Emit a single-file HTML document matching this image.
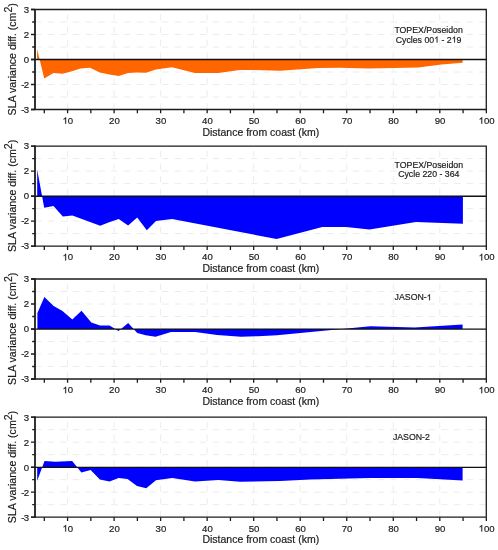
<!DOCTYPE html><html><head><meta charset="utf-8"><style>html,body{margin:0;padding:0;background:#fff;}svg{display:block;will-change:transform;}text{font-family:"Liberation Sans",sans-serif;fill:#1a1a1a;stroke:#1a1a1a;stroke-width:0.18px;}</style></head><body>
<svg width="498" height="550" viewBox="0 0 498 550">
<rect width="498" height="550" fill="#fff"/>
<g><path d="M35.0 22.00H486.3 M35.0 34.50H486.3 M35.0 47.00H486.3 M35.0 59.50H486.3 M35.0 72.00H486.3 M35.0 84.50H486.3 M35.0 97.00H486.3" stroke="#ececec" stroke-width="1" stroke-dasharray="6.4 6.3" fill="none"/><path d="M67.57 109.5V9.5 M114.10 109.5V9.5 M160.63 109.5V9.5 M207.16 109.5V9.5 M253.69 109.5V9.5 M300.22 109.5V9.5 M346.75 109.5V9.5 M393.28 109.5V9.5 M439.81 109.5V9.5" stroke="#ececec" stroke-width="1" stroke-dasharray="6.4 6.3" fill="none"/><path d="M37.1 59.50L37.1 49.1L44.2 78.4L53.5 73.0L62.5 73.8L72.0 71.3L80.5 68.5L90.1 67.7L99.8 72.5L109.4 74.5L118.7 76.1L128.1 73.1L137.1 72.5L146.1 72.8L155.8 69.5L172.0 67.3L194.9 73.1L218.3 73.1L232.4 71.1L240.0 70.1L254.1 70.1L280.2 70.7L304.3 69.1L318.4 68.1L340.0 67.7L368.2 68.5L418.1 67.5L441.6 64.5L462.6 62.7L462.6 59.50Z" fill="#ff6600"/><path d="M31 59.50H486.3" stroke="#111" stroke-width="1.4"/><path d="M31 9.50H486.3V109.50M31 109.50H486.9" stroke="#1c1c1c" stroke-width="1.3" fill="none"/><path d="M35.0 8.90V110.10" stroke="#1c1c1c" stroke-width="1.8" fill="none"/><path d="M31 9.50H35.0M31 34.50H35.0M31 59.50H35.0M31 84.50H35.0M31 109.50H35.0M32.2 22.00H35.0M32.2 47.00H35.0M32.2 72.00H35.0M32.2 97.00H35.0" stroke="#1c1c1c" stroke-width="1.3"/><path d="M44.31 109.50V113.30M67.57 109.50V113.30M90.84 109.50V113.30M114.10 109.50V113.30M137.37 109.50V113.30M160.63 109.50V113.30M183.90 109.50V113.30M207.16 109.50V113.30M230.43 109.50V113.30M253.69 109.50V113.30M276.96 109.50V113.30M300.22 109.50V113.30M323.49 109.50V113.30M346.75 109.50V113.30M370.02 109.50V113.30M393.28 109.50V113.30M416.55 109.50V113.30M439.81 109.50V113.30M463.08 109.50V113.30M486.34 109.50V113.30" stroke="#1c1c1c" stroke-width="1.3"/><text transform="translate(29 12.80) scale(1 1.0)" font-size="9.6" text-anchor="end">3</text><text transform="translate(29 37.80) scale(1 1.0)" font-size="9.6" text-anchor="end">2</text><text transform="translate(29 62.80) scale(1 1.0)" font-size="9.6" text-anchor="end">0</text><text transform="translate(29 87.80) scale(1 1.0)" font-size="9.6" text-anchor="end">-<tspan dx="-0.9">2</tspan></text><text transform="translate(29 112.80) scale(1 1.0)" font-size="9.6" text-anchor="end">-<tspan dx="-0.9">3</tspan></text><text x="67.87" y="123.80" font-size="9.6" text-anchor="middle"><tspan style="fill:none;stroke:none">1</tspan>0</text><text x="114.40" y="123.80" font-size="9.6" text-anchor="middle">20</text><text x="160.93" y="123.80" font-size="9.6" text-anchor="middle">30</text><text x="207.46" y="123.80" font-size="9.6" text-anchor="middle">40</text><text x="253.99" y="123.80" font-size="9.6" text-anchor="middle">50</text><text x="300.52" y="123.80" font-size="9.6" text-anchor="middle">60</text><text x="347.05" y="123.80" font-size="9.6" text-anchor="middle">70</text><text x="393.58" y="123.80" font-size="9.6" text-anchor="middle">80</text><text x="440.11" y="123.80" font-size="9.6" text-anchor="middle">90</text><text x="486.64" y="123.80" font-size="9.6" text-anchor="middle"><tspan style="fill:none;stroke:none">1</tspan>00</text><text x="260.8" y="135.50" font-size="10.5" text-anchor="middle">Distance from coast (km)</text><text transform="translate(16 59.30) rotate(-90)" font-size="10.6" text-anchor="middle">SLA variance diff. (cm<tspan dy="-4.2">2</tspan><tspan dy="4.2">)</tspan></text><text x="428.60" y="32.90" font-size="8.75" text-anchor="middle">TOPEX/Poseidon</text><text x="428.60" y="42.50" font-size="8.75" text-anchor="middle">Cycles 00<tspan style="fill:none;stroke:none">1</tspan> - 2<tspan style="fill:none;stroke:none">1</tspan>9</text></g>
<g><path d="M35.0 158.60H486.3 M35.0 171.10H486.3 M35.0 183.60H486.3 M35.0 196.10H486.3 M35.0 208.60H486.3 M35.0 221.10H486.3 M35.0 233.60H486.3" stroke="#ececec" stroke-width="1" stroke-dasharray="6.4 6.3" fill="none"/><path d="M67.57 246.1V146.1 M114.10 246.1V146.1 M160.63 246.1V146.1 M207.16 246.1V146.1 M253.69 246.1V146.1 M300.22 246.1V146.1 M346.75 246.1V146.1 M393.28 246.1V146.1 M439.81 246.1V146.1" stroke="#ececec" stroke-width="1" stroke-dasharray="6.4 6.3" fill="none"/><path d="M37.2 196.10L37.2 169.8L44.2 207.8L53.5 206.0L62.8 216.4L72.4 215.4L100.2 225.7L109.1 222.3L118.7 219.1L128.1 225.5L137.2 217.5L146.8 230.3L156.0 221.1L172.1 219.1L276.6 239.0L322.3 227.1L346.0 227.0L369.5 229.5L415.9 221.9L462.9 223.7L462.9 196.10Z" fill="#0000ff"/><path d="M31 196.30H486.3" stroke="#111" stroke-width="1.4"/><path d="M31 146.10H486.3V246.10M31 246.10H486.9" stroke="#1c1c1c" stroke-width="1.3" fill="none"/><path d="M35.0 145.50V246.70" stroke="#1c1c1c" stroke-width="1.8" fill="none"/><path d="M31 146.10H35.0M31 171.10H35.0M31 196.10H35.0M31 221.10H35.0M31 246.10H35.0M32.2 158.60H35.0M32.2 183.60H35.0M32.2 208.60H35.0M32.2 233.60H35.0" stroke="#1c1c1c" stroke-width="1.3"/><path d="M44.31 246.10V249.90M67.57 246.10V249.90M90.84 246.10V249.90M114.10 246.10V249.90M137.37 246.10V249.90M160.63 246.10V249.90M183.90 246.10V249.90M207.16 246.10V249.90M230.43 246.10V249.90M253.69 246.10V249.90M276.96 246.10V249.90M300.22 246.10V249.90M323.49 246.10V249.90M346.75 246.10V249.90M370.02 246.10V249.90M393.28 246.10V249.90M416.55 246.10V249.90M439.81 246.10V249.90M463.08 246.10V249.90M486.34 246.10V249.90" stroke="#1c1c1c" stroke-width="1.3"/><text transform="translate(29 149.40) scale(1 1.0)" font-size="9.6" text-anchor="end">3</text><text transform="translate(29 174.40) scale(1 1.0)" font-size="9.6" text-anchor="end">2</text><text transform="translate(29 199.40) scale(1 1.0)" font-size="9.6" text-anchor="end">0</text><text transform="translate(29 224.40) scale(1 1.0)" font-size="9.6" text-anchor="end">-<tspan dx="-0.9">2</tspan></text><text transform="translate(29 249.40) scale(1 1.0)" font-size="9.6" text-anchor="end">-<tspan dx="-0.9">3</tspan></text><text x="67.87" y="260.40" font-size="9.6" text-anchor="middle"><tspan style="fill:none;stroke:none">1</tspan>0</text><text x="114.40" y="260.40" font-size="9.6" text-anchor="middle">20</text><text x="160.93" y="260.40" font-size="9.6" text-anchor="middle">30</text><text x="207.46" y="260.40" font-size="9.6" text-anchor="middle">40</text><text x="253.99" y="260.40" font-size="9.6" text-anchor="middle">50</text><text x="300.52" y="260.40" font-size="9.6" text-anchor="middle">60</text><text x="347.05" y="260.40" font-size="9.6" text-anchor="middle">70</text><text x="393.58" y="260.40" font-size="9.6" text-anchor="middle">80</text><text x="440.11" y="260.40" font-size="9.6" text-anchor="middle">90</text><text x="486.64" y="260.40" font-size="9.6" text-anchor="middle"><tspan style="fill:none;stroke:none">1</tspan>00</text><text x="260.8" y="272.10" font-size="10.5" text-anchor="middle">Distance from coast (km)</text><text transform="translate(16 195.90) rotate(-90)" font-size="10.6" text-anchor="middle">SLA variance diff. (cm<tspan dy="-4.2">2</tspan><tspan dy="4.2">)</tspan></text><text x="428.80" y="167.60" font-size="8.75" text-anchor="middle">TOPEX/Poseidon</text><text x="428.80" y="177.20" font-size="8.75" text-anchor="middle">Cycle 220 - 364</text></g>
<g><path d="M35.0 291.50H486.3 M35.0 304.00H486.3 M35.0 316.50H486.3 M35.0 329.00H486.3 M35.0 341.50H486.3 M35.0 354.00H486.3 M35.0 366.50H486.3" stroke="#ececec" stroke-width="1" stroke-dasharray="6.4 6.3" fill="none"/><path d="M67.57 379.0V279.0 M114.10 379.0V279.0 M160.63 379.0V279.0 M207.16 379.0V279.0 M253.69 379.0V279.0 M300.22 379.0V279.0 M346.75 379.0V279.0 M393.28 379.0V279.0 M439.81 379.0V279.0" stroke="#ececec" stroke-width="1" stroke-dasharray="6.4 6.3" fill="none"/><path d="M37.4 329.00L37.4 313.0L44.4 297.1L53.6 306.1L62.5 311.0L72.3 319.5L81.5 310.7L91.3 322.5L100.0 325.4L109.5 325.6L118.6 331.0L128.2 323.1L137.2 333.1L145.7 335.2L155.5 336.7L171.0 331.9L195.1 332.1L217.1 335.1L241.2 336.7L258.0 336.2L277.0 335.2L370.4 326.2L414.8 327.5L462.6 324.4L462.6 329.00Z" fill="#0000ff"/><path d="M31 329.10H486.3" stroke="#111" stroke-width="1.4"/><path d="M31 279.00H486.3V379.00M31 379.00H486.9" stroke="#1c1c1c" stroke-width="1.3" fill="none"/><path d="M35.0 278.40V379.60" stroke="#1c1c1c" stroke-width="1.8" fill="none"/><path d="M31 279.00H35.0M31 304.00H35.0M31 329.00H35.0M31 354.00H35.0M31 379.00H35.0M32.2 291.50H35.0M32.2 316.50H35.0M32.2 341.50H35.0M32.2 366.50H35.0" stroke="#1c1c1c" stroke-width="1.3"/><path d="M44.31 379.00V382.80M67.57 379.00V382.80M90.84 379.00V382.80M114.10 379.00V382.80M137.37 379.00V382.80M160.63 379.00V382.80M183.90 379.00V382.80M207.16 379.00V382.80M230.43 379.00V382.80M253.69 379.00V382.80M276.96 379.00V382.80M300.22 379.00V382.80M323.49 379.00V382.80M346.75 379.00V382.80M370.02 379.00V382.80M393.28 379.00V382.80M416.55 379.00V382.80M439.81 379.00V382.80M463.08 379.00V382.80M486.34 379.00V382.80" stroke="#1c1c1c" stroke-width="1.3"/><text transform="translate(29 282.30) scale(1 1.0)" font-size="9.6" text-anchor="end">3</text><text transform="translate(29 307.30) scale(1 1.0)" font-size="9.6" text-anchor="end">2</text><text transform="translate(29 332.30) scale(1 1.0)" font-size="9.6" text-anchor="end">0</text><text transform="translate(29 357.30) scale(1 1.0)" font-size="9.6" text-anchor="end">-<tspan dx="-0.9">2</tspan></text><text transform="translate(29 382.30) scale(1 1.0)" font-size="9.6" text-anchor="end">-<tspan dx="-0.9">3</tspan></text><text x="67.87" y="393.30" font-size="9.6" text-anchor="middle"><tspan style="fill:none;stroke:none">1</tspan>0</text><text x="114.40" y="393.30" font-size="9.6" text-anchor="middle">20</text><text x="160.93" y="393.30" font-size="9.6" text-anchor="middle">30</text><text x="207.46" y="393.30" font-size="9.6" text-anchor="middle">40</text><text x="253.99" y="393.30" font-size="9.6" text-anchor="middle">50</text><text x="300.52" y="393.30" font-size="9.6" text-anchor="middle">60</text><text x="347.05" y="393.30" font-size="9.6" text-anchor="middle">70</text><text x="393.58" y="393.30" font-size="9.6" text-anchor="middle">80</text><text x="440.11" y="393.30" font-size="9.6" text-anchor="middle">90</text><text x="486.64" y="393.30" font-size="9.6" text-anchor="middle"><tspan style="fill:none;stroke:none">1</tspan>00</text><text x="260.8" y="405.00" font-size="10.5" text-anchor="middle">Distance from coast (km)</text><text transform="translate(16 328.80) rotate(-90)" font-size="10.6" text-anchor="middle">SLA variance diff. (cm<tspan dy="-4.2">2</tspan><tspan dy="4.2">)</tspan></text><text x="394.60" y="300.20" font-size="8.75" text-anchor="start">JASON-<tspan style="fill:none;stroke:none">1</tspan></text></g>
<g><path d="M35.0 429.70H486.3 M35.0 442.20H486.3 M35.0 454.70H486.3 M35.0 467.20H486.3 M35.0 479.70H486.3 M35.0 492.20H486.3 M35.0 504.70H486.3" stroke="#ececec" stroke-width="1" stroke-dasharray="6.4 6.3" fill="none"/><path d="M67.57 517.2V417.2 M114.10 517.2V417.2 M160.63 517.2V417.2 M207.16 517.2V417.2 M253.69 517.2V417.2 M300.22 517.2V417.2 M346.75 517.2V417.2 M393.28 517.2V417.2 M439.81 517.2V417.2" stroke="#ececec" stroke-width="1" stroke-dasharray="6.4 6.3" fill="none"/><path d="M37.2 467.20L37.2 480.7L44.5 461.1L55.3 461.7L72.2 461.1L81.4 472.6L90.6 470.0L99.9 479.5L109.5 481.4L118.6 478.1L127.6 478.9L137.0 485.9L146.3 488.3L155.9 480.2L172.2 478.1L195.1 481.5L218.2 480.1L240.2 481.7L280.0 481.1L310.2 479.5L370.0 478.1L417.4 478.0L462.6 480.6L462.6 467.20Z" fill="#0000ff"/><path d="M31 467.35H486.3" stroke="#111" stroke-width="1.4"/><path d="M31 417.20H486.3V517.20M31 517.20H486.9" stroke="#1c1c1c" stroke-width="1.3" fill="none"/><path d="M35.0 416.60V517.80" stroke="#1c1c1c" stroke-width="1.8" fill="none"/><path d="M31 417.20H35.0M31 442.20H35.0M31 467.20H35.0M31 492.20H35.0M31 517.20H35.0M32.2 429.70H35.0M32.2 454.70H35.0M32.2 479.70H35.0M32.2 504.70H35.0" stroke="#1c1c1c" stroke-width="1.3"/><path d="M44.31 517.20V521.00M67.57 517.20V521.00M90.84 517.20V521.00M114.10 517.20V521.00M137.37 517.20V521.00M160.63 517.20V521.00M183.90 517.20V521.00M207.16 517.20V521.00M230.43 517.20V521.00M253.69 517.20V521.00M276.96 517.20V521.00M300.22 517.20V521.00M323.49 517.20V521.00M346.75 517.20V521.00M370.02 517.20V521.00M393.28 517.20V521.00M416.55 517.20V521.00M439.81 517.20V521.00M463.08 517.20V521.00M486.34 517.20V521.00" stroke="#1c1c1c" stroke-width="1.3"/><text transform="translate(29 420.50) scale(1 1.0)" font-size="9.6" text-anchor="end">3</text><text transform="translate(29 445.50) scale(1 1.0)" font-size="9.6" text-anchor="end">2</text><text transform="translate(29 470.50) scale(1 1.0)" font-size="9.6" text-anchor="end">0</text><text transform="translate(29 495.50) scale(1 1.0)" font-size="9.6" text-anchor="end">-<tspan dx="-0.9">2</tspan></text><text transform="translate(29 520.50) scale(1 1.0)" font-size="9.6" text-anchor="end">-<tspan dx="-0.9">3</tspan></text><text x="67.87" y="531.50" font-size="9.6" text-anchor="middle"><tspan style="fill:none;stroke:none">1</tspan>0</text><text x="114.40" y="531.50" font-size="9.6" text-anchor="middle">20</text><text x="160.93" y="531.50" font-size="9.6" text-anchor="middle">30</text><text x="207.46" y="531.50" font-size="9.6" text-anchor="middle">40</text><text x="253.99" y="531.50" font-size="9.6" text-anchor="middle">50</text><text x="300.52" y="531.50" font-size="9.6" text-anchor="middle">60</text><text x="347.05" y="531.50" font-size="9.6" text-anchor="middle">70</text><text x="393.58" y="531.50" font-size="9.6" text-anchor="middle">80</text><text x="440.11" y="531.50" font-size="9.6" text-anchor="middle">90</text><text x="486.64" y="531.50" font-size="9.6" text-anchor="middle"><tspan style="fill:none;stroke:none">1</tspan>00</text><text x="260.8" y="543.20" font-size="10.5" text-anchor="middle">Distance from coast (km)</text><text transform="translate(16 467.00) rotate(-90)" font-size="10.6" text-anchor="middle">SLA variance diff. (cm<tspan dy="-4.2">2</tspan><tspan dy="4.2">)</tspan></text><text x="392.90" y="439.90" font-size="8.75" text-anchor="start">JASON-2</text></g>
<path transform="matrix(0.004687 0 0 -0.004687 62.53 123.80)" d="M763 0L583 0L583 1100C540 1058 483 1016 412 974C342 932 280 900 225 878L225 1048C324 1094 410 1150 484 1216C558 1282 611 1346 641 1409L763 1409Z" fill="#1a1a1a" stroke="#1a1a1a" stroke-width="38.4"/>
<path transform="matrix(0.004687 0 0 -0.004687 478.63 123.80)" d="M763 0L583 0L583 1100C540 1058 483 1016 412 974C342 932 280 900 225 878L225 1048C324 1094 410 1150 484 1216C558 1282 611 1346 641 1409L763 1409Z" fill="#1a1a1a" stroke="#1a1a1a" stroke-width="38.4"/>
<path transform="matrix(0.004272 0 0 -0.004272 434.17 42.50)" d="M763 0L583 0L583 1100C540 1058 483 1016 412 974C342 932 280 900 225 878L225 1048C324 1094 410 1150 484 1216C558 1282 611 1346 641 1409L763 1409Z" fill="#1a1a1a" stroke="#1a1a1a" stroke-width="42.1"/>
<path transform="matrix(0.004272 0 0 -0.004272 451.70 42.50)" d="M763 0L583 0L583 1100C540 1058 483 1016 412 974C342 932 280 900 225 878L225 1048C324 1094 410 1150 484 1216C558 1282 611 1346 641 1409L763 1409Z" fill="#1a1a1a" stroke="#1a1a1a" stroke-width="42.1"/>
<path transform="matrix(0.004687 0 0 -0.004687 62.53 260.40)" d="M763 0L583 0L583 1100C540 1058 483 1016 412 974C342 932 280 900 225 878L225 1048C324 1094 410 1150 484 1216C558 1282 611 1346 641 1409L763 1409Z" fill="#1a1a1a" stroke="#1a1a1a" stroke-width="38.4"/>
<path transform="matrix(0.004687 0 0 -0.004687 478.63 260.40)" d="M763 0L583 0L583 1100C540 1058 483 1016 412 974C342 932 280 900 225 878L225 1048C324 1094 410 1150 484 1216C558 1282 611 1346 641 1409L763 1409Z" fill="#1a1a1a" stroke="#1a1a1a" stroke-width="38.4"/>
<path transform="matrix(0.004687 0 0 -0.004687 62.53 393.30)" d="M763 0L583 0L583 1100C540 1058 483 1016 412 974C342 932 280 900 225 878L225 1048C324 1094 410 1150 484 1216C558 1282 611 1346 641 1409L763 1409Z" fill="#1a1a1a" stroke="#1a1a1a" stroke-width="38.4"/>
<path transform="matrix(0.004687 0 0 -0.004687 478.63 393.30)" d="M763 0L583 0L583 1100C540 1058 483 1016 412 974C342 932 280 900 225 878L225 1048C324 1094 410 1150 484 1216C558 1282 611 1346 641 1409L763 1409Z" fill="#1a1a1a" stroke="#1a1a1a" stroke-width="38.4"/>
<path transform="matrix(0.004272 0 0 -0.004272 426.69 300.20)" d="M763 0L583 0L583 1100C540 1058 483 1016 412 974C342 932 280 900 225 878L225 1048C324 1094 410 1150 484 1216C558 1282 611 1346 641 1409L763 1409Z" fill="#1a1a1a" stroke="#1a1a1a" stroke-width="42.1"/>
<path transform="matrix(0.004687 0 0 -0.004687 62.53 531.50)" d="M763 0L583 0L583 1100C540 1058 483 1016 412 974C342 932 280 900 225 878L225 1048C324 1094 410 1150 484 1216C558 1282 611 1346 641 1409L763 1409Z" fill="#1a1a1a" stroke="#1a1a1a" stroke-width="38.4"/>
<path transform="matrix(0.004687 0 0 -0.004687 478.63 531.50)" d="M763 0L583 0L583 1100C540 1058 483 1016 412 974C342 932 280 900 225 878L225 1048C324 1094 410 1150 484 1216C558 1282 611 1346 641 1409L763 1409Z" fill="#1a1a1a" stroke="#1a1a1a" stroke-width="38.4"/>
</svg></body></html>
